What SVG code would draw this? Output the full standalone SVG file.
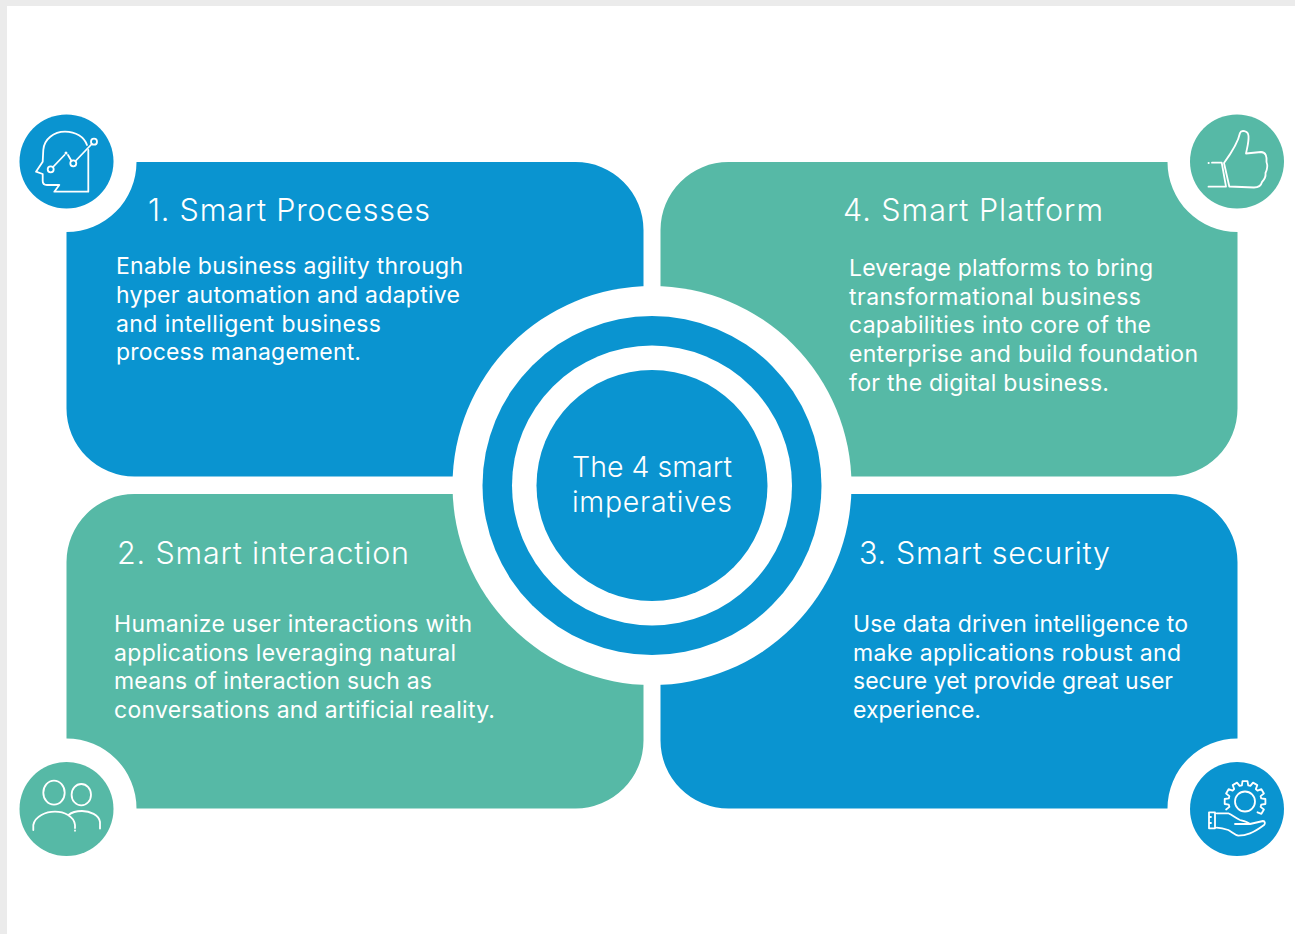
<svg xmlns="http://www.w3.org/2000/svg" width="1295" height="934" viewBox="0 0 1295 934">
<style>
.b{fill:#0a94d0}.g{fill:#56b9a6}.w{fill:#fff}
text{font-family:Inter,"Noto Sans",sans-serif;fill:#fff}
.h{font-size:30.500px;font-weight:300}.t{font-size:23px}.c{font-size:28.500px;font-weight:300}
.i{fill:none;stroke:#fff;stroke-width:1.800;stroke-linejoin:round;stroke-linecap:round}
</style>
<rect width="1295" height="934" fill="#fff"/>
<path fill="#ebebeb" d="M0 0H1295V6H7V934H0Z"/>
<g id="card-1"><path class="b" d="M136.500 162H575.500A68 68 0 0 1 643.500 230V476.500H134.500A68 68 0 0 1 66.500 408.500V232A70 70 0 0 0 136.500 162Z"/>
<text class="h" x="148" y="221" textLength="282">1. Smart Processes</text>
<text class="t" x="116" y="274" textLength="347">Enable business agility through</text>
<text class="t" x="116" y="303" textLength="344">hyper automation and adaptive</text>
<text class="t" x="116" y="331.500" textLength="265">and intelligent business</text>
<text class="t" x="116" y="360" textLength="245">process management.</text></g>
<g id="card-4"><path class="g" d="M728.500 162H1167.500A70 70 0 0 0 1237.500 232V408.500A68 68 0 0 1 1169.500 476.500H660.500V230A68 68 0 0 1 728.500 162Z"/>
<text class="h" x="843" y="221" textLength="260">4. Smart Platform</text>
<text class="t" x="849" y="276" textLength="304">Leverage platforms to bring</text>
<text class="t" x="849" y="305" textLength="292">transformational business</text>
<text class="t" x="849" y="333" textLength="302">capabilities into core of the</text>
<text class="t" x="849" y="362" textLength="349">enterprise and build foundation</text>
<text class="t" x="849" y="391" textLength="260">for the digital business.</text></g>
<g id="card-2"><path class="g" d="M134.500 494H643.500V740.500A68 68 0 0 1 575.500 808.500H136.500A70 70 0 0 0 66.500 738.500V562A68 68 0 0 1 134.500 494Z"/>
<text class="h" x="117" y="564" textLength="292">2. Smart interaction</text>
<text class="t" x="114" y="632" textLength="358">Humanize user interactions with</text>
<text class="t" x="114" y="661" textLength="342">applications leveraging natural</text>
<text class="t" x="114" y="689" textLength="318">means of interaction such as</text>
<text class="t" x="114" y="718" textLength="381">conversations and artificial reality.</text></g>
<g id="card-3"><path class="b" d="M660.500 494H1169.500A68 68 0 0 1 1237.500 562V738.500A70 70 0 0 0 1167.500 808.500H728.500A68 68 0 0 1 660.500 740.500Z"/>
<text class="h" x="859" y="564" textLength="251">3. Smart security</text>
<text class="t" x="853" y="632" textLength="335">Use data driven intelligence to</text>
<text class="t" x="853" y="661" textLength="328">make applications robust and</text>
<text class="t" x="853" y="689" textLength="320">secure yet provide great user</text>
<text class="t" x="853" y="718" textLength="128">experience.</text></g>
<g id="center"><circle class="w" cx="652" cy="485.500" r="199.500"/><circle class="b" cx="652" cy="485.500" r="169.500"/><circle class="w" cx="652" cy="485.500" r="140"/><circle class="b" cx="652" cy="485.500" r="115.500"/>
<text class="c" x="572" y="477" textLength="160">The 4 smart</text>
<text class="c" x="572" y="512" textLength="160">imperatives</text></g>
<g id="icon-1"><circle class="b" cx="66.500" cy="161.500" r="47"/>
<path class="i" d="M88.300 150V191.700H54.300L59.300 185H47Q42.700 185 42.700 181V174L36 171.700L42.700 161.700L43.300 150C44 139 54 131.700 65 131.700C76 131.700 84 137 87 145"/>
<path class="i" d="M53 167L64.500 155M68 155L71.500 161M75.500 161L91.800 144"/><circle class="i" cx="50.700" cy="169.300" r="3"/><circle class="i" cx="73.300" cy="163.300" r="3"/><circle class="i" cx="94" cy="141.700" r="3"/><circle cx="66" cy="153" r="1.500" fill="#fff"/></g>
<g id="icon-4"><circle class="g" cx="1237" cy="161.500" r="47"/>
<path class="i" d="M1229.300 186.500L1224 163C1232 152 1238 143 1240 133C1241 130 1248 130 1248.500 136C1249 142 1247 148 1246 153.500L1261 152C1266 152 1267 157 1266.500 162C1268 166 1267 170 1265.500 173C1266 177 1264 180 1262 182C1261 186 1258 187.500 1254 187.500Z"/>
<path class="i" d="M1212 162.700H1221.700L1226 186.700H1208.500M1208.500 163H1208.800"/></g>
<g id="icon-2"><circle class="g" cx="66.500" cy="809" r="47"/>
<ellipse class="i" cx="54" cy="792.700" rx="10.700" ry="12"/><ellipse class="i" cx="81.300" cy="794.700" rx="9.700" ry="10.700"/>
<path class="i" d="M33.300 830V825C35 816 46 811.700 55 811.700C64 811.700 74 816 75 825V828M75 830.500V830.800M68.500 815C72 812 77 811 82 811C90 811 99 815 100 822V828.500"/></g>
<g id="icon-3"><circle class="b" cx="1237" cy="809" r="47"/>
<circle class="i" cx="1245" cy="801.500" r="10"/>
<path class="i" d="M1226.100 809.500L1229.400 806.900L1228.800 804.700L1224.700 804V799L1228.800 798.400L1229.400 796.100L1226.100 793.500L1228.600 789.200L1232.600 790.700L1234.200 789.100L1232.700 785.100L1237 782.600L1239.600 785.900L1241.900 785.300L1242.500 781.200H1247.500L1248.200 785.300L1250.400 785.900L1253 782.600L1257.300 785.100L1255.800 789.100L1257.500 790.700L1261.400 789.200L1263.900 793.500L1260.600 796.100L1261.200 798.400L1265.400 799V804L1261.200 804.700L1260.600 806.900L1263.900 809.500L1261.400 813.800L1257.500 812.300"/>
<path class="i" d="M1209 812.300H1215V828.300H1209ZM1209 817H1211M1209 823H1211M1216.700 813.300H1228.300C1232 815 1236 818 1240 820C1244 821 1247 821.500 1250 824H1235M1250 824L1263 821C1265 821 1265.500 823.500 1264 825C1260 828 1255 831.500 1250 833.300C1246 835 1242 835.700 1238.300 835.700C1235 835 1232 832 1228.300 830C1225 829 1221 828 1216.700 827.700"/></g>
</svg>
